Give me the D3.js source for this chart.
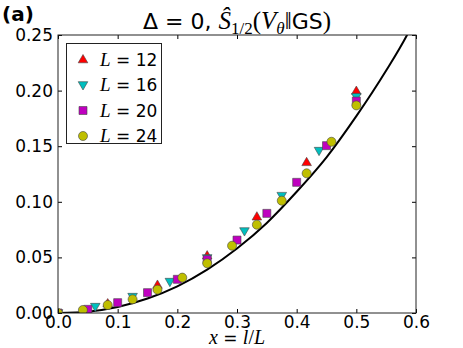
<!DOCTYPE html>
<html>
<head>
<meta charset="utf-8">
<script src="https://cdn.jsdelivr.net/npm/d3@7"></script>
<style>
  body { margin: 0; background: #fff; }
  svg { display: block; }
</style>
</head>
<body>
<svg id="chart" width="463" height="348"></svg>
<script>
// data
var xL12 = [0, 0.0833, 0.1667, 0.25, 0.3333, 0.4167, 0.5];
var yL12 = [0, 0.0085, 0.0252, 0.0516, 0.0866, 0.1355, 0.1996];
var xL16 = [0, 0.0625, 0.125, 0.1875, 0.25, 0.3125, 0.375, 0.4375, 0.5];
var yL16 = [0, 0.0057, 0.0147, 0.0282, 0.0495, 0.0737, 0.1055, 0.146, 0.1945];
var xL20 = [0, 0.05, 0.1, 0.15, 0.2, 0.25, 0.3, 0.35, 0.4, 0.45, 0.5];
var yL20 = [0, 0.0033, 0.0093, 0.0183, 0.0303, 0.048, 0.0656, 0.0896, 0.1175, 0.1505, 0.1906];
var xL24 = [0, 0.0417, 0.0833, 0.125, 0.1667, 0.2083, 0.25, 0.2917, 0.3333, 0.375, 0.4167, 0.4583, 0.5];
var yL24 = [0, 0.0027, 0.0072, 0.0123, 0.021, 0.0318, 0.0447, 0.0605, 0.0794, 0.101, 0.1256, 0.154, 0.1867];
// theory curve
var xCurve = [0, 0.05, 0.1, 0.15, 0.2, 0.25, 0.3, 0.35, 0.4, 0.45, 0.5, 0.55, 0.585, 0.6];
var yCurve = [0, 0.0012, 0.0054, 0.013, 0.024, 0.039, 0.058, 0.081, 0.109, 0.14, 0.177, 0.218, 0.25, 0.266];
var xTicks = [0, 0.1, 0.2, 0.3, 0.4, 0.5, 0.6];
var yTicks = [0, 0.05, 0.1, 0.15, 0.2, 0.25];
var seriesNames = ["12", "16", "20", "24"];

(function () {
    var series = [
        { name: seriesNames[0], xs: xL12, ys: yL12, color: "#ff0000", shape: "up" },
        { name: seriesNames[1], xs: xL16, ys: yL16, color: "#00bfbf", shape: "down" },
        { name: seriesNames[2], xs: xL20, ys: yL20, color: "#bf00bf", shape: "square" },
        { name: seriesNames[3], xs: xL24, ys: yL24, color: "#bfbf00", shape: "circle" }
    ];

    var svg = d3.select("#chart");
    var mLeft = 58, mRight = 416, mTop = 35, mBottom = 313;
    var x = d3.scaleLinear().domain([0, 0.6]).range([mLeft, mRight]);
    var y = d3.scaleLinear().domain([0, 0.25]).range([mBottom, mTop]);

    var sans = "'DejaVu Sans', sans-serif";
    var serif = "'Liberation Serif', 'DejaVu Serif', serif";

    svg.append("defs").append("clipPath").attr("id", "plotclip")
        .append("rect").attr("x", mLeft).attr("y", mTop)
        .attr("width", mRight - mLeft).attr("height", mBottom - mTop);

    var plot = svg.append("g").attr("clip-path", "url(#plotclip)");

    var line = d3.line()
        .x(function (d) { return x(d[0]); })
        .y(function (d) { return y(d[1]); })
        .curve(d3.curveMonotoneX);
    plot.append("path")
        .datum(xCurve.map(function (v, i) { return [v, yCurve[i]]; }))
        .attr("d", line)
        .attr("fill", "none")
        .attr("stroke", "#000")
        .attr("stroke-width", 2);

    function markerPath(shape) {
        if (shape === "up") return "M0,-5L4.8,3.3L-4.8,3.3Z";
        if (shape === "down") return "M0,5L4.8,-3.3L-4.8,-3.3Z";
        if (shape === "square") return "M-4,-4H4V4H-4Z";
        return d3.symbol(d3.symbolCircle, 64)();
    }

    series.forEach(function (s) {
        plot.selectAll(null)
            .data(s.xs.map(function (v, i) { return [v, s.ys[i]]; }))
            .enter().append("path")
            .attr("d", markerPath(s.shape))
            .attr("transform", function (d) { return "translate(" + x(d[0]) + "," + y(d[1]) + ")"; })
            .attr("fill", s.color)
            .attr("stroke", "#444")
            .attr("stroke-width", 0.6);
    });

    // axes, ticks pointing inward
    var gx = svg.append("g").attr("transform", "translate(0," + mBottom + ")")
        .call(d3.axisBottom(x).tickValues(xTicks).tickFormat(d3.format(".1f")).tickSizeInner(-4).tickSizeOuter(0).tickPadding(3));
    var gy = svg.append("g").attr("transform", "translate(" + mLeft + ",0)")
        .call(d3.axisLeft(y).tickValues(yTicks).tickFormat(d3.format(".2f")).tickSizeInner(-4).tickSizeOuter(0).tickPadding(5));
    var gt = svg.append("g").attr("transform", "translate(0," + mTop + ")")
        .call(d3.axisTop(x).tickValues(xTicks).tickFormat("").tickSizeInner(-4).tickSizeOuter(0));
    var gr = svg.append("g").attr("transform", "translate(" + mRight + ",0)")
        .call(d3.axisRight(y).tickValues(yTicks).tickFormat("").tickSizeInner(-4).tickSizeOuter(0));
    [gx, gy, gt, gr].forEach(function (g) {
        g.select(".domain").remove();
        g.selectAll("line").attr("stroke", "#000");
        g.selectAll("text").attr("fill", "#000").style("font-family", sans).style("font-size", "17px");
    });

    svg.append("rect")
        .attr("x", mLeft).attr("y", mTop)
        .attr("width", mRight - mLeft).attr("height", mBottom - mTop)
        .attr("fill", "none").attr("stroke", "#222").attr("stroke-width", 1);

    // legend
    var legend = svg.append("g");
    legend.append("rect")
        .attr("x", 66.5).attr("y", 43.5).attr("width", 95).attr("height", 100)
        .attr("fill", "#fff").attr("stroke", "#222").attr("stroke-width", 1);
    series.forEach(function (s, i) {
        var cy = 59.5 + i * 25.5;
        legend.append("path")
            .attr("d", markerPath(s.shape))
            .attr("transform", "translate(83," + cy + ")")
            .attr("fill", s.color).attr("stroke", "#444").attr("stroke-width", 0.6);
        var t = legend.append("text").attr("x", 100).attr("y", cy + 6)
            .style("font-size", "17px").attr("fill", "#000");
        t.append("tspan").style("font-family", serif).style("font-style", "italic").style("font-size", "19px").text("L");
        t.append("tspan").style("font-family", sans).text(" = ");
        t.append("tspan").style("font-family", sans).text(s.name);
    });

    // title
    var title = svg.append("text").attr("x", 237).attr("y", 29)
        .attr("text-anchor", "middle").style("font-size", "22px").attr("fill", "#000");
    title.append("tspan").style("font-family", sans).text("\u0394 = 0, ");
    title.append("tspan").style("font-family", serif).style("font-style", "italic").style("font-size", "25px").text("\u015C");
    title.append("tspan").style("font-family", serif).style("font-size", "17px").attr("dy", 5).text("1/2");
    title.append("tspan").style("font-family", serif).style("font-size", "25px").attr("dy", -5).text("(");
    title.append("tspan").style("font-family", serif).style("font-style", "italic").style("font-size", "25px").text("V");
    title.append("tspan").style("font-family", serif).style("font-style", "italic").style("font-size", "17px").attr("dy", 5).text("\u03B8");
    title.append("tspan").style("font-family", serif).style("font-size", "25px").attr("dy", -5).text("\u2016");
    title.append("tspan").style("font-family", sans).text("GS");
    title.append("tspan").style("font-family", serif).style("font-size", "25px").text(")");

    // panel label
    svg.append("text").attr("x", 2).attr("y", 21)
        .style("font-family", sans).style("font-weight", "bold").style("font-size", "20px")
        .attr("fill", "#000").text("(a)");

    // x label
    var xl = svg.append("text").attr("x", 237).attr("y", 344)
        .attr("text-anchor", "middle").style("font-size", "20px").attr("fill", "#000");
    xl.append("tspan").style("font-family", serif).style("font-style", "italic").text("x");
    xl.append("tspan").style("font-family", sans).style("font-size", "17px").text(" = ");
    xl.append("tspan").style("font-family", serif).style("font-style", "italic").text("l");
    xl.append("tspan").style("font-family", serif).text("/");
    xl.append("tspan").style("font-family", serif).style("font-style", "italic").text("L");
})();
</script>
</body>
</html>
